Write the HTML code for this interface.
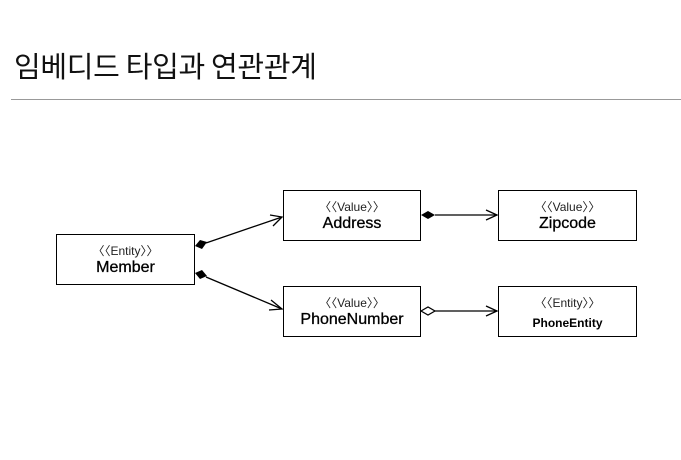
<!DOCTYPE html>
<html><head><meta charset="utf-8"><style>
body{margin:0;width:681px;height:460px;background:#fff;overflow:hidden;font-family:"Liberation Sans","Noto Sans CJK KR",sans-serif}
.t{position:absolute;left:14px;top:44px;font-size:29px;color:#111;font-family:"Noto Sans CJK KR","NanumGothic",sans-serif;font-weight:400;letter-spacing:-0.3px}
.hr{position:absolute;left:11px;top:99px;width:670px;height:1px;background:#999}
.b{position:absolute;border:1.3px solid #000;box-sizing:border-box;text-align:center;background:#fff}
.s{font-size:12px;margin-top:9px;line-height:14px;color:#222}
.n{font-size:16px;line-height:19px;color:#000;-webkit-text-stroke:0.3px #000}
</style></head><body>
<div class="t">임베디드 타입과 연관관계</div>
<div class="hr"></div>
<svg width="681" height="460" style="position:absolute;left:0;top:0">
<g stroke="#000" stroke-width="1.3" fill="none">
<line x1="206" y1="243" x2="282" y2="217"/>
<polyline points="270,215 282,217 273,226"/>
<line x1="206" y1="277" x2="282" y2="309"/>
<polyline points="271,300 282,309 269,310"/>
<line x1="435" y1="215" x2="497" y2="215"/>
<polyline points="486,210 497,215 486,220"/>
<line x1="435" y1="311" x2="497" y2="311"/>
<polyline points="486,306 497,311 486,316"/>
</g>
<polygon points="195,246 200,240 207,242 202,249" fill="#000"/>
<polygon points="195,273 202,270 207,276 200,279" fill="#000"/>
<polygon points="421,215 428,211 435,215 428,219" fill="#000"/>
<polygon points="421,311 428,307 435,311 428,315" fill="#fff" stroke="#000" stroke-width="1.2"/>
</svg>
<div class="b" style="left:56px;top:234px;width:139px;height:51px"><div class="s">〈〈Entity〉〉</div><div class="n">Member</div></div>
<div class="b" style="left:283px;top:190px;width:138px;height:51px"><div class="s">〈〈Value〉〉</div><div class="n">Address</div></div>
<div class="b" style="left:283px;top:286px;width:138px;height:51px"><div class="s">〈〈Value〉〉</div><div class="n">PhoneNumber</div></div>
<div class="b" style="left:498px;top:190px;width:139px;height:51px"><div class="s">〈〈Value〉〉</div><div class="n">Zipcode</div></div>
<div class="b" style="left:498px;top:286px;width:139px;height:51px"><div class="s">〈〈Entity〉〉</div><div class="n" style="font-size:12px;font-weight:bold;margin-top:4px;-webkit-text-stroke:0">PhoneEntity</div></div>
</body></html>
